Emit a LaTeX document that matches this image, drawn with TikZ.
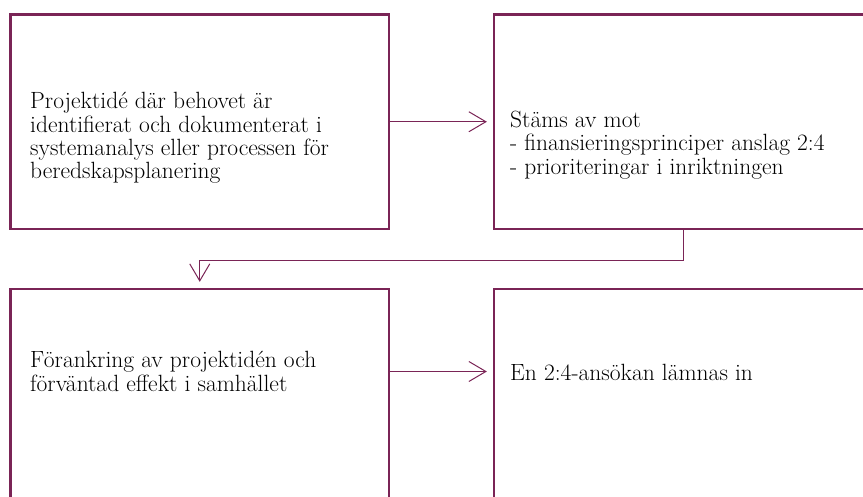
\documentclass[tikz,border=0pt]{standalone}
\usepackage{fontspec}
\usetikzlibrary{arrows.meta}
\definecolor{plum}{RGB}{122,36,86}
\tikzset{
	box/.style={draw=plum, line width=2.3pt, minimum width=378.5pt, minimum height=214.5pt, inner sep=0pt},
	boxtext/.style={anchor=west, align=left, inner sep=0pt, text=black, font=\fontsize{23.5}{23.3}\selectfont},
	link/.style={draw=plum, line width=1pt, -{Straight Barb[length=17pt,width=20pt]}, shorten >=6pt},
}
\begin{document}
\begin{tikzpicture}[x=1pt,y=-1pt]
					\clip (0,0) rectangle (863,497);
					\node[box] (idea) at (199.75,121.75) {};
					\node[box] (check) at (683.25,121.75) {};
					\node[box] (anchor) at (199.75,396.25) {};
					\node[box] (apply) at (683.25,396.25) {};
					\node[boxtext] (ideatext) at (30,138) {Projektidé där behovet är\\identifierat och dokumenterat i\\systemanalys eller processen för\\beredskapsplanering};
					\node[boxtext] (checktext) at (510,145) {Stäms av mot\\- finansieringsprinciper anslag 2:4\\- prioriteringar i inriktningen};
					\node[boxtext] (anchortext) at (30,371.5) {Förankring av projektidén och\\förväntad effekt i samhället};
					\node[boxtext] (applytext) at (510,372) {En 2:4-ansökan lämnas in};
					\draw[link] (idea.east) -- (check.west);
					\draw[link] (check.south) -- ++(0,30) -| (anchor.north);
					\draw[link] (anchortext.west -| anchor.east) -- (anchortext.west -| apply.west);
				\end{tikzpicture}
\end{document}
